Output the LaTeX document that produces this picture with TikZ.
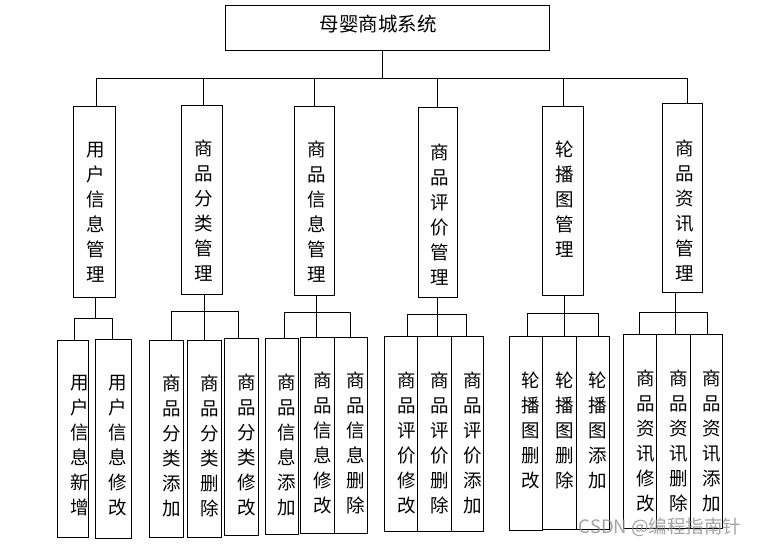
\documentclass[tikz,border=0pt]{standalone}
\usepackage{fontspec}
\newfontfamily\cjk{Noto Sans CJK SC}
\begin{document}
\begin{tikzpicture}[x=1pt,y=-1pt,
  box/.style={draw, line width=0.8pt, inner sep=0pt, outer sep=0pt},
  txt/.style={font=\cjk\fontsize{18.5}{25}\selectfont, align=center, inner sep=0pt},
  ln/.style={line width=0.8pt}]
\useasboundingbox (0,0) rectangle (761,547);
% root
\node[box, minimum width=324pt, minimum height=45pt] (root) at (387,27.5) {};
\node[font=\cjk\fontsize{19.5}{24}\selectfont, inner sep=0pt] (roott) at (378,24) {母婴商城系统};
% level 1 boxes
\node[box, minimum width=42pt, minimum height=191pt] (b1) at (94,201.5) {};
\node[box, minimum width=41pt, minimum height=189pt] (b2) at (201.5,199.5) {};
\node[box, minimum width=40pt, minimum height=189pt] (b3) at (314,200.5) {};
\node[box, minimum width=39pt, minimum height=190pt] (b4) at (437.5,202) {};
\node[box, minimum width=41pt, minimum height=189pt] (b5) at (562.5,200.5) {};
\node[box, minimum width=40pt, minimum height=189pt] (b6) at (682,197.5) {};
\node[txt] (t1) at (95.5,212.5) {用\\户\\信\\息\\管\\理};
\node[txt] (t2) at (203.5,211) {商\\品\\分\\类\\管\\理};
\node[txt] (t3) at (317,212) {商\\品\\信\\息\\管\\理};
\node[txt] (t4) at (440,214.5) {商\\品\\评\\价\\管\\理};
\node[txt] (t5) at (565,199) {轮\\播\\图\\管\\理};
\node[txt] (t6) at (685,210.5) {商\\品\\资\\讯\\管\\理};
% bus
\coordinate (rj) at (382,78);
\coordinate (j1) at (96,78);
\coordinate (j2) at (203,78);
\coordinate (j3) at (314,78);
\coordinate (j4) at (437,78);
\coordinate (j5) at (563,78);
\coordinate (j6) at (687,78);
\draw[ln] (root.south -| rj) -- (rj);
\draw[ln] (j1) -- (j6);
\foreach \i in {1,...,6} { \draw[ln] (j\i) -- (j\i |- b\i.north); }
% level 2 boxes
\node[box, minimum width=31pt, minimum height=197pt] (c11) at (72.5,438.5) {};
\node[box, minimum width=36pt, minimum height=199pt] (c12) at (113,438.5) {};
\node[box, minimum width=34pt, minimum height=197pt] (c21) at (166,438.5) {};
\node[box, minimum width=34pt, minimum height=197pt] (c22) at (204,438.5) {};
\node[box, minimum width=34pt, minimum height=197pt] (c23) at (241,436.5) {};
\node[box, minimum width=33pt, minimum height=196pt] (c31) at (281.5,436) {};
\node[box, minimum width=34pt, minimum height=196pt] (c32) at (317,435) {};
\node[box, minimum width=33pt, minimum height=196pt] (c33) at (350.5,435) {};
\node[box, minimum width=33pt, minimum height=195pt] (c41) at (400.5,433.5) {};
\node[box, minimum width=34pt, minimum height=195pt] (c42) at (434,433.5) {};
\node[box, minimum width=32pt, minimum height=195pt] (c43) at (467,433.5) {};
\node[box, minimum width=33pt, minimum height=194pt] (c51) at (525.5,433) {};
\node[box, minimum width=34pt, minimum height=193pt] (c52) at (559,432.5) {};
\node[box, minimum width=33pt, minimum height=193pt] (c53) at (592.5,432.5) {};
\node[box, minimum width=33pt, minimum height=194pt] (c61) at (639.5,431) {};
\node[box, minimum width=34pt, minimum height=194pt] (c62) at (673,431) {};
\node[box, minimum width=32pt, minimum height=194pt] (c63) at (706,431) {};
% level 2 texts
\node[txt] (s11) at (79.5,445.5) {用\\户\\信\\息\\新\\增};
\node[txt] (s12) at (118,445.5) {用\\户\\信\\息\\修\\改};
\node[txt] (s21) at (172,445.5) {商\\品\\分\\类\\添\\加};
\node[txt] (s22) at (210,445.5) {商\\品\\分\\类\\删\\除};
\node[txt] (s23) at (247,444.5) {商\\品\\分\\类\\修\\改};
\node[txt] (s31) at (287,444.5) {商\\品\\信\\息\\添\\加};
\node[txt] (s32) at (323,443) {商\\品\\信\\息\\修\\改};
\node[txt] (s33) at (356,443) {商\\品\\信\\息\\删\\除};
\node[txt] (s41) at (406.5,442.5) {商\\品\\评\\价\\修\\改};
\node[txt] (s42) at (440,442.5) {商\\品\\评\\价\\删\\除};
\node[txt] (s43) at (472.5,442.5) {商\\品\\评\\价\\添\\加};
\node[txt] (s51) at (530.5,430) {轮\\播\\图\\删\\改};
\node[txt] (s52) at (564.5,430) {轮\\播\\图\\删\\除};
\node[txt] (s53) at (598,430) {轮\\播\\图\\添\\加};
\node[txt] (s61) at (646,441) {商\\品\\资\\讯\\修\\改};
\node[txt] (s62) at (679,441) {商\\品\\资\\讯\\删\\除};
\node[txt] (s63) at (712,441) {商\\品\\资\\讯\\添\\加};
% level 2 connectors
% group 1
\coordinate (h1) at (95,318); \coordinate (d11) at (74,318); \coordinate (d12) at (112,318);
\draw[ln] (b1.south -| h1) -- (h1);
\draw[ln] (c11.north -| d11) -- (d11) -- (d12) -- (c12.north -| d12);
% group 2
\coordinate (h2) at (204,311); \coordinate (d21) at (171,311); \coordinate (d23) at (238,311);
\draw[ln] (b2.south -| h2) -- (c22.north -| h2);
\draw[ln] (c21.north -| d21) -- (d21) -- (d23) -- (c23.north -| d23);
% group 3
\coordinate (h3) at (316,312); \coordinate (d31) at (284,312); \coordinate (d33) at (350,312);
\draw[ln] (b3.south -| h3) -- (c32.north -| h3);
\draw[ln] (c31.north -| d31) -- (d31) -- (d33) -- (c33.north -| d33);
% group 4
\coordinate (h4) at (437,314); \coordinate (d41) at (407,314); \coordinate (d43) at (466,314);
\draw[ln] (b4.south -| h4) -- (c42.north -| h4);
\draw[ln] (c41.north -| d41) -- (d41) -- (d43) -- (c43.north -| d43);
% group 5
\coordinate (h5) at (564,313); \coordinate (d51) at (527,313); \coordinate (d53) at (598,313);
\draw[ln] (b5.south -| h5) -- (c52.north -| h5);
\draw[ln] (c51.north -| d51) -- (d51) -- (d53) -- (c53.north -| d53);
% group 6
\coordinate (h6) at (675,312); \coordinate (d61) at (639,312); \coordinate (d63) at (707,312);
\draw[ln] (b6.south -| h6) -- (c62.north -| h6);
\draw[ln] (c61.north -| d61) -- (d61) -- (d63) -- (c63.north -| d63);
% watermark
\node[font=\cjk\fontsize{18.5}{20}\selectfont, text=black!45, text opacity=0.8, inner sep=0pt] (wm) at (660,527) {CSDN @编程指南针};
\end{tikzpicture}
\end{document}
